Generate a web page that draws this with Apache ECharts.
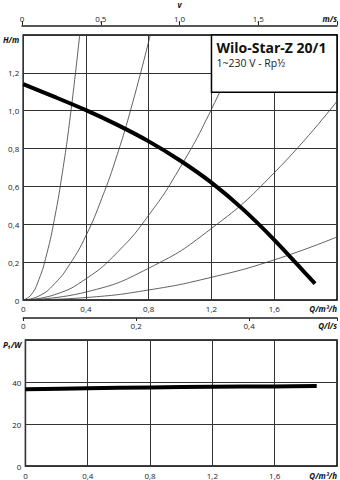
<!DOCTYPE html>
<html>
<head>
<meta charset="utf-8">
<script src="https://cdn.jsdelivr.net/npm/echarts@6/dist/echarts.min.js"></script>
<style>
html, body { margin: 0; padding: 0; background: #fff; }
#chart { width: 340px; height: 480px; }
</style>
</head>
<body>
<div id="chart"></div>
<script>
// Pumpenkennlinie, Q in m3/h, H in m
var pumpeQ = [0, 0.2, 0.4, 0.6, 0.8, 1.0, 1.2, 1.4, 1.6, 1.8, 1.86];
var pumpeH = [1.14, 1.073, 1.003, 0.925, 0.838, 0.737, 0.62, 0.48, 0.318, 0.14, 0.086];

// Anlagenkennlinien (duenn)
var anlage1Q = [0, 0.05, 0.1, 0.15, 0.2, 0.25, 0.3, 0.36];
var anlage1H = [0, 0.027, 0.108, 0.243, 0.432, 0.675, 0.97, 1.4];
var anlage2Q = [0, 0.1, 0.2, 0.3, 0.4, 0.5, 0.6, 0.7, 0.81];
var anlage2H = [0, 0.021, 0.086, 0.193, 0.34, 0.535, 0.77, 1.05, 1.4];
var anlage3Q = [0, 0.2, 0.4, 0.6, 0.8, 1.0, 1.2, 1.41];
var anlage3H = [0, 0.028, 0.112, 0.252, 0.448, 0.7, 1.008, 1.39];
var anlage4Q = [0, 0.4, 0.8, 1.2, 1.6, 2.0];
var anlage4H = [0, 0.042, 0.168, 0.378, 0.672, 1.05];
var anlage5Q = [0, 0.4, 0.8, 1.2, 1.6, 2.0];
var anlage5H = [0, 0.013, 0.053, 0.12, 0.212, 0.333];

// Leistungsaufnahme P1 in W
var leistungQ = [0, 0.4, 0.8, 1.2, 1.6, 1.87];
var leistungP = [36.6, 37.0, 37.4, 37.7, 37.9, 38.1];

// Achsenbeschriftungen
var qLabels = ['0', '0,4', '0,8', '1,2', '1,6', 'Q/m³/h'];
var vLabels = ['0', '0,5', '1,0', '1,5', 'm/s'];
var lsLabels = ['0', '0,2', '0,4', 'Q/l/s'];
var hLabels = ['0', '0,2', '0,4', '0,6', '0,8', '1,0', '1,2', 'H/m'];
var pLabels = ['0', '20', '40', 'P₁/W'];

var titel = 'Wilo-Star-Z 20/1';
var untertitel = '1~230 V - Rp½';

var schrift = '"Open Sans", sans-serif';

function paare(xs, ys) {
  var out = [];
  for (var i = 0; i < xs.length; i++) out.push([xs[i], ys[i]]);
  return out;
}

function beschriftung(labels, extra) {
  var o = {
    fontFamily: schrift,
    fontSize: 8,
    color: '#222',
    showMaxLabel: true,
    formatter: function (v, i) {
      if (i === labels.length - 1) return '{u|' + labels[i] + '}';
      return labels[i];
    },
    rich: {
      u: { fontFamily: schrift, fontSize: 8, fontWeight: 'bold', fontStyle: 'italic', color: '#111' }
    }
  };
  for (var k in extra) o[k] = extra[k];
  return o;
}

var gitter = { show: true, lineStyle: { color: '#333', width: 1 } };

function duenn(xs, ys) {
  return {
    type: 'line', xAxisIndex: 0, yAxisIndex: 0,
    data: paare(xs, ys), smooth: 0.5, showSymbol: false, silent: true,
    lineStyle: { color: '#3a3a3a', width: 0.8 }, z: 3
  };
}

var chart = echarts.init(document.getElementById('chart'), null, { renderer: 'svg' });

var option = {
  animation: false,
  backgroundColor: '#fff',
  grid: [
    { left: 22, top: 35, width: 317, height: 265, show: true, borderColor: '#000', borderWidth: 1.5 },
    { left: 22, top: 340, width: 317, height: 126, show: true, borderColor: '#000', borderWidth: 1.5 },
    // Streifen nur fuer die v-Achse oben
    { left: 22, top: 24, width: 317, height: 1 }
  ],
  xAxis: [
    {
      gridIndex: 0, type: 'value', min: 0, max: 2, interval: 0.4,
      axisLine: { show: false }, axisTick: { show: false }, splitLine: gitter,
      axisLabel: beschriftung(qLabels, { margin: 4, alignMaxLabel: 'right' })
    },
    {
      gridIndex: 2, type: 'value', position: 'top', min: 0, max: 2, interval: 0.5,
      name: 'v', nameLocation: 'middle', nameGap: 17,
      nameTextStyle: { fontFamily: schrift, fontSize: 8, fontWeight: 'bold', fontStyle: 'italic', color: '#111' },
      axisLine: { show: true, lineStyle: { color: '#222', width: 1.5 } },
      axisTick: { show: true, length: 4, lineStyle: { color: '#222' } },
      splitLine: { show: false },
      axisLabel: beschriftung(vLabels, { margin: 3, alignMaxLabel: 'right' })
    },
    {
      gridIndex: 0, type: 'value', position: 'bottom', offset: 18, min: 0, max: 2 / 3.6, interval: 0.2,
      axisLine: { show: true, lineStyle: { color: '#222', width: 1.5 } },
      axisTick: { show: true, length: 3, lineStyle: { color: '#222' } },
      splitLine: { show: false },
      axisLabel: beschriftung(lsLabels, { margin: 3, alignMaxLabel: 'right' })
    },
    {
      gridIndex: 1, type: 'value', min: 0, max: 2, interval: 0.4,
      axisLine: { show: false }, axisTick: { show: false }, splitLine: gitter,
      axisLabel: beschriftung(qLabels, { margin: 5, alignMaxLabel: 'right' })
    }
  ],
  yAxis: [
    {
      gridIndex: 0, type: 'value', min: 0, max: 1.4, interval: 0.2,
      axisLine: { show: false }, axisTick: { show: false }, splitLine: gitter,
      axisLabel: beschriftung(hLabels, { margin: 4, verticalAlignMaxLabel: 'top' })
    },
    {
      gridIndex: 1, type: 'value', min: 0, max: 60, interval: 20,
      axisLine: { show: false }, axisTick: { show: false }, splitLine: gitter,
      axisLabel: beschriftung(pLabels, { margin: 4, verticalAlignMaxLabel: 'top' })
    },
    { gridIndex: 2, type: 'value', show: false, min: 0, max: 1 }
  ],
  series: [
    duenn(anlage1Q, anlage1H),
    duenn(anlage2Q, anlage2H),
    duenn(anlage3Q, anlage3H),
    duenn(anlage4Q, anlage4H),
    duenn(anlage5Q, anlage5H),
    {
      type: 'line', xAxisIndex: 0, yAxisIndex: 0, data: paare(pumpeQ, pumpeH),
      smooth: 0.3, showSymbol: false, silent: true,
      lineStyle: { color: '#000', width: 4, cap: 'butt' }, z: 5
    },
    {
      type: 'line', xAxisIndex: 3, yAxisIndex: 1, data: paare(leistungQ, leistungP),
      smooth: 0.3, showSymbol: false, silent: true,
      lineStyle: { color: '#000', width: 4, cap: 'butt' }, z: 5
    }
  ]
};

chart.setOption(option);

// Typenschild-Kasten oben rechts
var ecke1 = chart.convertToPixel({ xAxisIndex: 0, yAxisIndex: 0 }, [1.2, 1.4]);
var ecke2 = chart.convertToPixel({ xAxisIndex: 0, yAxisIndex: 0 }, [2.0, 1.097]);

chart.setOption({
  graphic: [
    {
      type: 'rect', z: 100,
      shape: { x: ecke1[0], y: ecke1[1], width: ecke2[0] - ecke1[0], height: ecke2[1] - ecke1[1] },
      style: { fill: '#fff', stroke: '#000', lineWidth: 1.5 }
    },
    {
      type: 'text', z: 101, x: ecke1[0] + 5, y: ecke1[1] + 5,
      style: { text: titel, font: 'bold 14px ' + schrift, fill: '#111' }
    },
    {
      type: 'text', z: 101, x: ecke1[0] + 5, y: ecke1[1] + 22,
      style: { text: untertitel, font: '10.5px ' + schrift, fill: '#222' }
    }
  ]
});
</script>
</body>
</html>
